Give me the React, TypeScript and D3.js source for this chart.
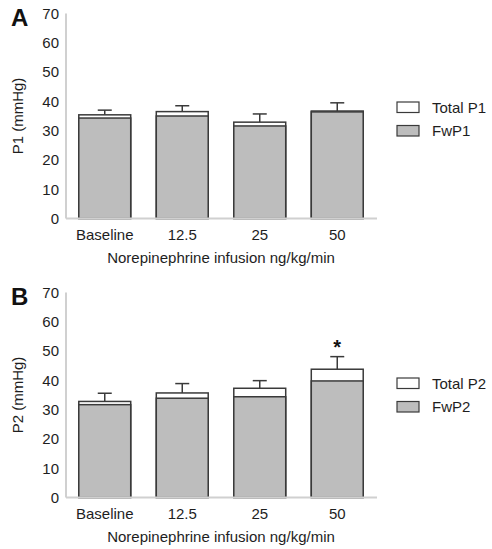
import React from "react";
import * as d3 from "d3";

const categories = ["Baseline", "12.5", "25", "50"];
const yTicks = [0, 10, 20, 30, 40, 50, 60, 70];

const totalP1 = [35.4, 36.5, 32.9, 36.7];
const fwP1 = [34.3, 35.0, 31.6, 36.4];
const semP1 = [1.6, 2.0, 2.8, 2.8];

const totalP2 = [32.8, 35.7, 37.3, 43.8];
const fwP2 = [31.7, 33.9, 34.4, 39.8];
const semP2 = [2.8, 3.2, 2.6, 4.3];
const sigP2 = [false, false, false, true];

const xTitle = "Norepinephrine infusion ng/kg/min";

const FONT = "'Liberation Sans', Arial, Helvetica, sans-serif";
const TXT = "#1e1e1e";
const BAR_STROKE = "#3a3a3a";
const GRAY = "#bdbdbd";
const AXIS = "#d0d0d0";

type PanelProps = {
  letter: string;
  yLabel: string;
  total: number[];
  fw: number[];
  sem: number[];
  sig?: boolean[];
  totalName: string;
  fwName: string;
  top: number;
  bottom: number;
  legendY: number;
};

function Panel(p: PanelProps) {
  const x = d3.scaleBand<string>().domain(categories).range([66, 376]).paddingInner(0.33).paddingOuter(0.165);
  const y = d3.scaleLinear().domain([0, 70]).range([p.bottom, p.top]);
  const bw = x.bandwidth();
  const capW = 14;
  return (
    <g>
      <text x={11} y={p.top + 12} fontFamily={FONT} fontWeight="bold" fontSize={24} fill="#111">
        {p.letter}
      </text>
      <text
        transform={`translate(23,${(p.top + p.bottom) / 2}) rotate(-90)`}
        textAnchor="middle"
        fontFamily={FONT}
        fontSize={15}
        fill={TXT}
      >
        {p.yLabel}
      </text>
      {yTicks.map((t) => (
        <text key={t} x={59} y={y(t)} dy="0.36em" textAnchor="end" fontFamily={FONT} fontSize={15} fill={TXT}>
          {t}
        </text>
      ))}
      <line x1={66} x2={66} y1={y(70)} y2={y(0)} stroke={AXIS} strokeWidth={2} />
      {categories.map((c, i) => {
        const x0 = x(c)!;
        const cx = x0 + bw / 2;
        return (
          <g key={c}>
            <line x1={cx} x2={cx} y1={y(p.total[i])} y2={y(p.total[i] + p.sem[i])} stroke={BAR_STROKE} strokeWidth={1.5} />
            <line x1={cx - capW / 2} x2={cx + capW / 2} y1={y(p.total[i] + p.sem[i])} y2={y(p.total[i] + p.sem[i])} stroke={BAR_STROKE} strokeWidth={1.5} />
            <rect x={x0} y={y(p.total[i])} width={bw} height={y(0) - y(p.total[i])} fill="#fff" stroke={BAR_STROKE} strokeWidth={1.5} />
            <rect x={x0} y={y(p.fw[i])} width={bw} height={y(0) - y(p.fw[i])} fill={GRAY} stroke={BAR_STROKE} strokeWidth={1.5} />
            {p.sig && p.sig[i] ? (
              <text x={cx} y={y(p.total[i] + p.sem[i]) - 3} textAnchor="middle" fontFamily={FONT} fontWeight="bold" fontSize={20} fill="#111">
                *
              </text>
            ) : null}
            <text x={cx} y={p.bottom + 21.5} textAnchor="middle" fontFamily={FONT} fontSize={15} fill={TXT}>
              {c}
            </text>
          </g>
        );
      })}
      <line x1={66} x2={377} y1={y(0)} y2={y(0)} stroke={AXIS} strokeWidth={2} />
      <text x={221} y={p.bottom + 44} textAnchor="middle" fontFamily={FONT} fontSize={15} fill={TXT}>
        {xTitle}
      </text>
      <rect x={397} y={p.legendY} width={22} height={10.5} fill="#fff" stroke={BAR_STROKE} strokeWidth={1.2} />
      <text x={432} y={p.legendY + 10.5} fontFamily={FONT} fontSize={15} fill={TXT}>
        {p.totalName}
      </text>
      <rect x={397} y={p.legendY + 23.5} width={22} height={10.5} fill={GRAY} stroke={BAR_STROKE} strokeWidth={1.2} />
      <text x={432} y={p.legendY + 34} fontFamily={FONT} fontSize={15} fill={TXT}>
        {p.fwName}
      </text>
    </g>
  );
}

export default function App() {
  return (
    <svg
      width={492}
      height={549}
      style={{ position: "absolute", left: 0, top: 0, background: "#fff" }}
    >
      <rect width={492} height={549} fill="#fff" />
      <Panel
        letter="A"
        yLabel="P1 (mmHg)"
        total={totalP1}
        fw={fwP1}
        sem={semP1}
        totalName="Total P1"
        fwName="FwP1"
        top={13.5}
        bottom={218.5}
        legendY={102}
      />
      <Panel
        letter="B"
        yLabel="P2 (mmHg)"
        total={totalP2}
        fw={fwP2}
        sem={semP2}
        sig={sigP2}
        totalName="Total P2"
        fwName="FwP2"
        top={292.5}
        bottom={497.5}
        legendY={378}
      />
    </svg>
  );
}
